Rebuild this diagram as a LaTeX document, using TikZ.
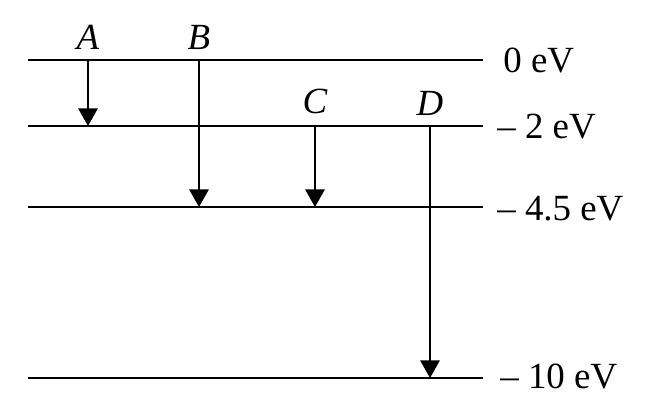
\documentclass[tikz,border=0pt]{standalone}
\usepackage{fontspec}
\setmainfont{Liberation Serif}
\usetikzlibrary{arrows.meta}

\begin{document}
\begin{tikzpicture}[
    x=0.02cm, y=-0.02cm,
    level/.style={line width=1.1pt},
    trans/.style={-{Triangle[width=11pt, length=10pt]}, line width=1.1pt},
    elabel/.style={anchor=west, inner sep=0pt, font=\fontsize{21}{25}\selectfont},
    tlabel/.style={inner sep=0pt, font=\fontsize{21}{25}\selectfont\itshape}
]
\useasboundingbox (0,0) rectangle (664,409);

% Energy levels
\foreach \name/\y in {l0/60, l2/126, l45/207, l10/378} {
    \coordinate (\name w) at (28,\y);
    \coordinate (\name e) at (483,\y);
    \draw[level] (\name w) -- (\name e);
}

% Level values
\node[elabel] (e0) at (503,61) {0 eV};
\node[elabel] (e2) at (497,127) {-- 2 eV};
\node[elabel] (e45) at (497,209) {-- 4.5 eV};
\node[elabel] (e10) at (500,377) {-- 10 eV};

% Transition labels
\node[tlabel] (A) at (88,37) {A};
\node[tlabel] (B) at (199,37) {B};
\node[tlabel] (C) at (315,101) {C};
\node[tlabel] (D) at (430,103) {D};

% Transitions
\draw[trans] (A |- l0w) -- (A |- l2w);
\draw[trans] (B |- l0w) -- (B |- l45w);
\draw[trans] (C |- l2w) -- (C |- l45w);
\draw[trans] (D |- l2w) -- (D |- l10w);

\end{tikzpicture}
\end{document}
